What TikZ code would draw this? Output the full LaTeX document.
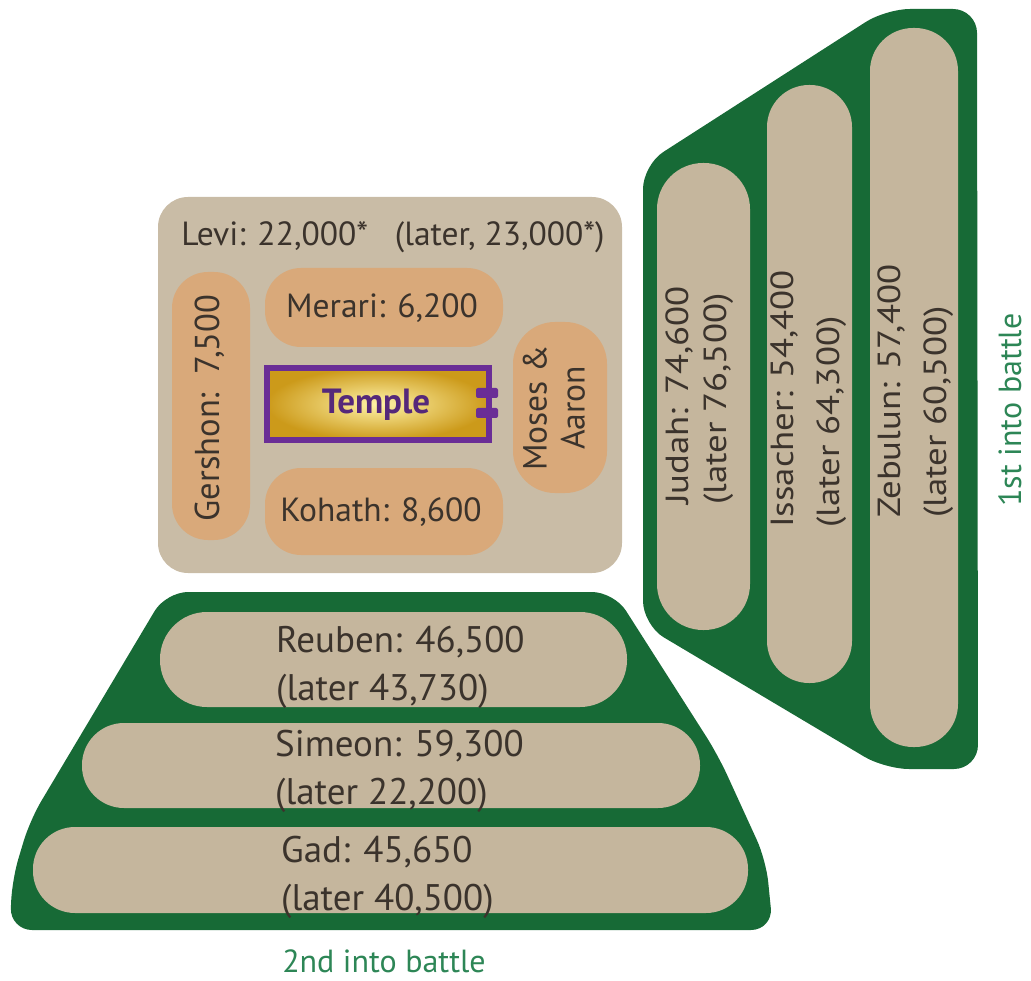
\documentclass[tikz,border=0pt]{standalone}
\usepackage{fontspec}
\setmainfont{PT Sans}
\newfontfamily\stretchfont[FakeStretch=1.15]{PT Sans}
\definecolor{grn}{HTML}{176A36}
\definecolor{tanc}{HTML}{C5B69D}
\definecolor{levitan}{HTML}{C9BCA6}
\definecolor{orng}{HTML}{D9A97A}
\definecolor{txt}{HTML}{3B332C}
\definecolor{purp}{HTML}{6A2D96}
\definecolor{purptxt}{HTML}{55287A}
\definecolor{lbl}{HTML}{2D8656}
\definecolor{goldout}{HTML}{CC9A1A}
\definecolor{goldin}{HTML}{FFF3A8}
\tikzset{
  pill/.style={rectangle, fill=tanc, inner sep=0pt},
  subpill/.style={rectangle, fill=orng, inner sep=0pt},
  lab/.style={inner sep=0pt, text=txt},
  battle/.style={inner sep=0pt, text=lbl, font=\fontsize{32}{40}\selectfont},
}
\begin{document}
\begin{tikzpicture}[x=1pt,y=-1pt]
\useasboundingbox (0,0) rectangle (1031,981);
% right green group
\fill[grn, rounded corners=24] (643,165) -- (886,9) -- (977,9) -- (978,769) -- (885,769) -- (643,625) -- cycle;
% bottom green group
\fill[grn, rounded corners=22] (166,592) -- (614,592) -- (718,755) -- (766,860) -- (773,930) -- (10,930) -- (12,880) -- (30,820) -- cycle;
% Levi box
\node[rectangle, fill=levitan, rounded corners=30, minimum width=464, minimum height=376, inner sep=0] (levi) at (390,385) {};
\node[lab, font=\fontsize{33.5}{40}\selectfont] (leviT) at (393,237) {Levi: 22,000*\ \ \ (later, 23,000*)};
% sub-clans
\node[subpill, rounded corners=36, minimum width=238, minimum height=79] (merari) at (384,307.5) {};
\node[lab, font=\fontsize{33.5}{40}\selectfont] (merariT) at (382,308) {Merari: 6,200};
\node[subpill, rounded corners=36, minimum width=238, minimum height=87] (kohath) at (384,511.5) {};
\node[lab, font=\fontsize{33.5}{40}\selectfont] (kohathT) at (381,512) {Kohath: 8,600};
\node[subpill, rounded corners=36, minimum width=78, minimum height=268] (gershon) at (211,406) {};
\node[lab, rotate=90, font=\fontsize{34.5}{40}\selectfont] (gershonT) at (210,408) {Gershon:\ \ 7,500};
\node[subpill, rounded corners=42, minimum width=94, minimum height=171] (moses) at (560,407.5) {};
\node[lab, rotate=90, align=center, font=\fontsize{33.5}{38}\selectfont] (mosesT) at (554,408) {Moses \&\\Aaron};
% temple
\node[rectangle, draw=purp, line width=6, inner color=goldin, outer color=goldout, minimum width=222, minimum height=72, inner sep=0] (temple) at (378,404) {};
\fill[purp, rounded corners=2] (476,388) rectangle (498,398);
\fill[purp, rounded corners=2] (476,408) rectangle (498,418);
\node[inner sep=0, text=purptxt, font=\bfseries\fontsize{35}{40}\selectfont] (templeT) at (376,405) {Temple};
% bottom pills
\node[pill, rounded corners=47, minimum width=467, minimum height=95] (reuben) at (393.5,659.5) {};
\node[pill, rounded corners=42, minimum width=618, minimum height=85] (simeon) at (391,765.5) {};
\node[pill, rounded corners=42, minimum width=715, minimum height=86] (gad) at (390.5,870) {};
\node[lab, anchor=west, align=left, font=\fontsize{37}{48}\selectfont] (reubenT) at (276,667) {Reuben: 46,500\\(later 43,730)};
\node[lab, anchor=west, align=left, font=\fontsize{37}{48}\selectfont] (simeonT) at (275,771) {Simeon: 59,300\\(later 22,200)};
\node[lab, anchor=west, align=left, font=\fontsize{37}{48}\selectfont] (gadT) at (281,877) {Gad: 45,650\\(later 40,500)};
% right pills
\node[pill, rounded corners=46, minimum width=93, minimum height=467] (judah) at (703.5,396.5) {};
\node[pill, rounded corners=42, minimum width=85, minimum height=598] (issacher) at (809.5,384) {};
\node[pill, rounded corners=43, minimum width=88, minimum height=719] (zebulun) at (914,387.5) {};
\node[lab, rotate=90, anchor=west, align=left, font=\stretchfont\fontsize{32}{38}\selectfont] (judahT) at (700,505) {Judah: 74,600\\(later 76,500)};
\node[lab, rotate=90, anchor=west, align=left, font=\stretchfont\fontsize{32}{46}\selectfont] (issacherT) at (809,528) {Issacher: 54,400\\(later 64,300)};
\node[lab, rotate=90, anchor=west, align=left, font=\stretchfont\fontsize{32}{46}\selectfont] (zebulunT) at (916,518) {Zebulun: 57,400\\(later 60,500)};
% labels
\node[battle, rotate=90] (first) at (1010,410) {1st into battle};
\node[battle] (second) at (384,961) {2nd into battle};
\end{tikzpicture}
\end{document}
